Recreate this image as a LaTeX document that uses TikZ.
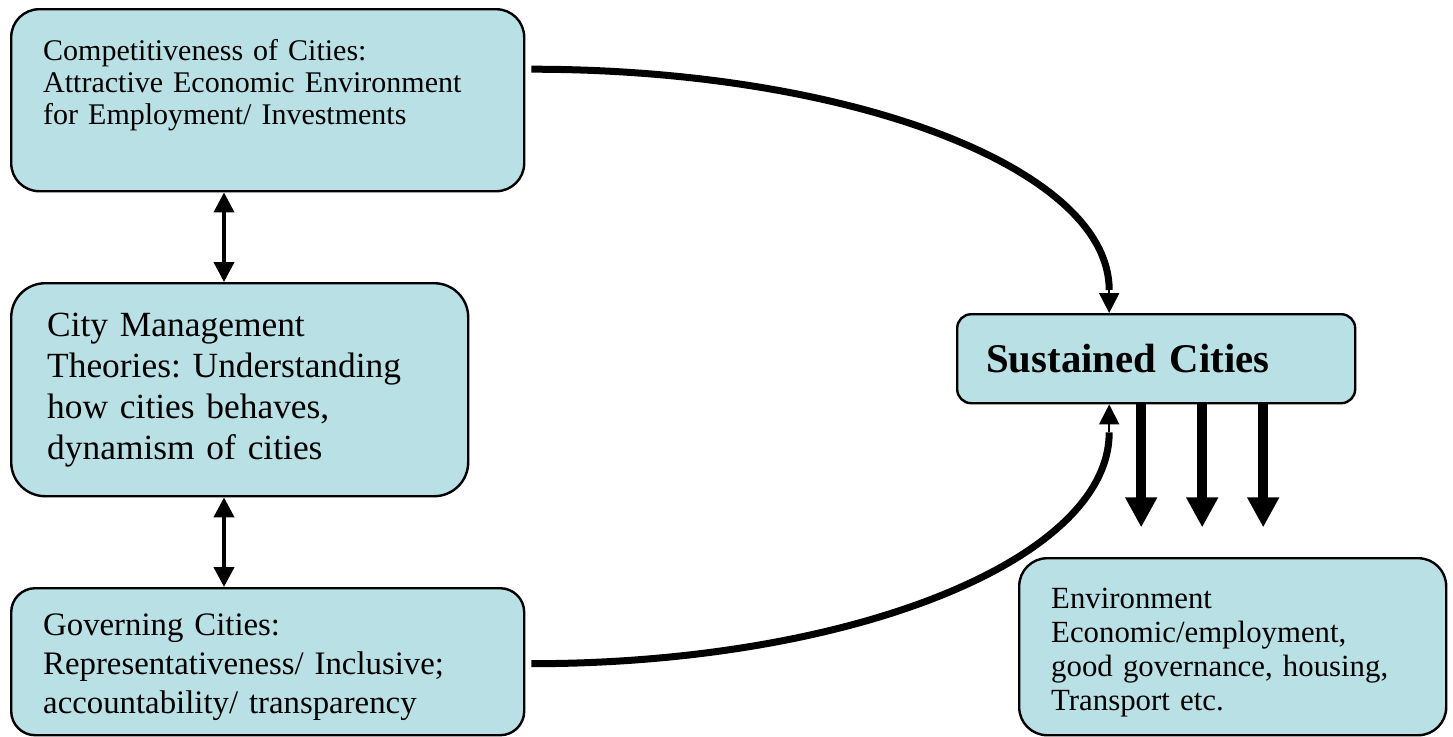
\documentclass[tikz,border=0pt]{standalone}
\usepackage{fontspec}
\setmainfont{Liberation Serif}
\usetikzlibrary{arrows.meta}
\frenchspacing

\definecolor{boxfill}{RGB}{185,224,228}

\tikzset{
    cbox/.style={draw=black, line width=1.2pt, fill=boxfill, rounded corners=#1,
        anchor=north west, align=left, inner ysep=0pt},
    link/.style={{Triangle[width=10pt,length=10pt]}-{Triangle[width=10pt,length=10pt]}, line width=2pt},
    bigcurve/.style={line width=3.5pt},
    tip/.style={-{Triangle[width=10pt,length=10pt]}, line width=1pt},
    fat/.style={-{Triangle[width=15pt,length=15pt]}, line width=5pt},
}

\begin{document}
\begin{tikzpicture}[x=0.5pt, y=-0.5pt]
                    \useasboundingbox (0,0) rectangle (1453,736);

                    % boxes on the left
                    \node[cbox=14pt, minimum width=256.5pt, minimum height=91pt, inner xsep=16pt, text width=224.5pt,
                        text depth=50pt, font=\fontsize{15}{16}\selectfont] (comp) at (10,8)
                        {Competitiveness of Cities:\\Attractive Economic Environment\\for Employment/ Investments};
                    \node[cbox=17pt, minimum width=228.5pt, minimum height=106.5pt, inner xsep=18pt, text width=192.5pt,
                        font=\fontsize{17.7}{20.5}\selectfont] (mgmt) at (10,282)
                        {City Management\\Theories: Understanding\\how cities behaves,\\dynamism of cities};
                    \node[cbox=12pt, minimum width=256.5pt, minimum height=73.5pt, inner xsep=16pt, text width=224.5pt,
                        text height=16pt, font=\fontsize{16.4}{19.5}\selectfont] (gov) at (10,587)
                        {Governing Cities:\\Representativeness/ Inclusive;\\accountability/ transparency};

                    % boxes on the right
                    \node[cbox=7pt, minimum width=199pt, minimum height=44.5pt, inner xsep=14.5pt, text width=170pt,
                        font=\fontsize{20.4}{24}\selectfont\bfseries] (sus) at (956,313) {Sustained Cities};
                    \node[cbox=14pt, minimum width=213.5pt, minimum height=88.5pt, inner xsep=16pt, text width=181.5pt,
                        text height=15.8pt, font=\fontsize{15.4}{17}\selectfont] (env) at (1018,557)
                        {Environment\\Economic/employment,\\good governance, housing,\\Transport etc.};

                    % links between the left boxes
                    \coordinate (axis) at (224,0);
                    \draw[link] (comp.south -| axis) -- (mgmt.north -| axis);
                    \draw[link] (mgmt.south -| axis) -- (gov.north -| axis);

                    % curves into sustained cities
                    \coordinate (topin) at ([xshift=-23.5pt,yshift=11.5pt]sus.north);
                    \coordinate (botin) at ([xshift=-23.5pt,yshift=-14pt]sus.south);
                    \draw[bigcurve] ([xshift=3pt,yshift=15.5pt]comp.east) .. controls +(318,0) and +(0,-122) .. (topin);
                    \draw[bigcurve] ([xshift=3pt,yshift=-1pt]gov.east) .. controls +(318,0) and +(0,128) .. (botin);
                    \draw[tip] (topin) -- (topin |- sus.north);
                    \draw[tip] (botin) -- (botin |- sus.south);

                    % outputs
                    \foreach \dx in {-7.5pt,23pt,53.5pt}
                        \draw[fat] ([xshift=\dx]sus.south) -- ++(0,123);
                \end{tikzpicture}
\end{document}
